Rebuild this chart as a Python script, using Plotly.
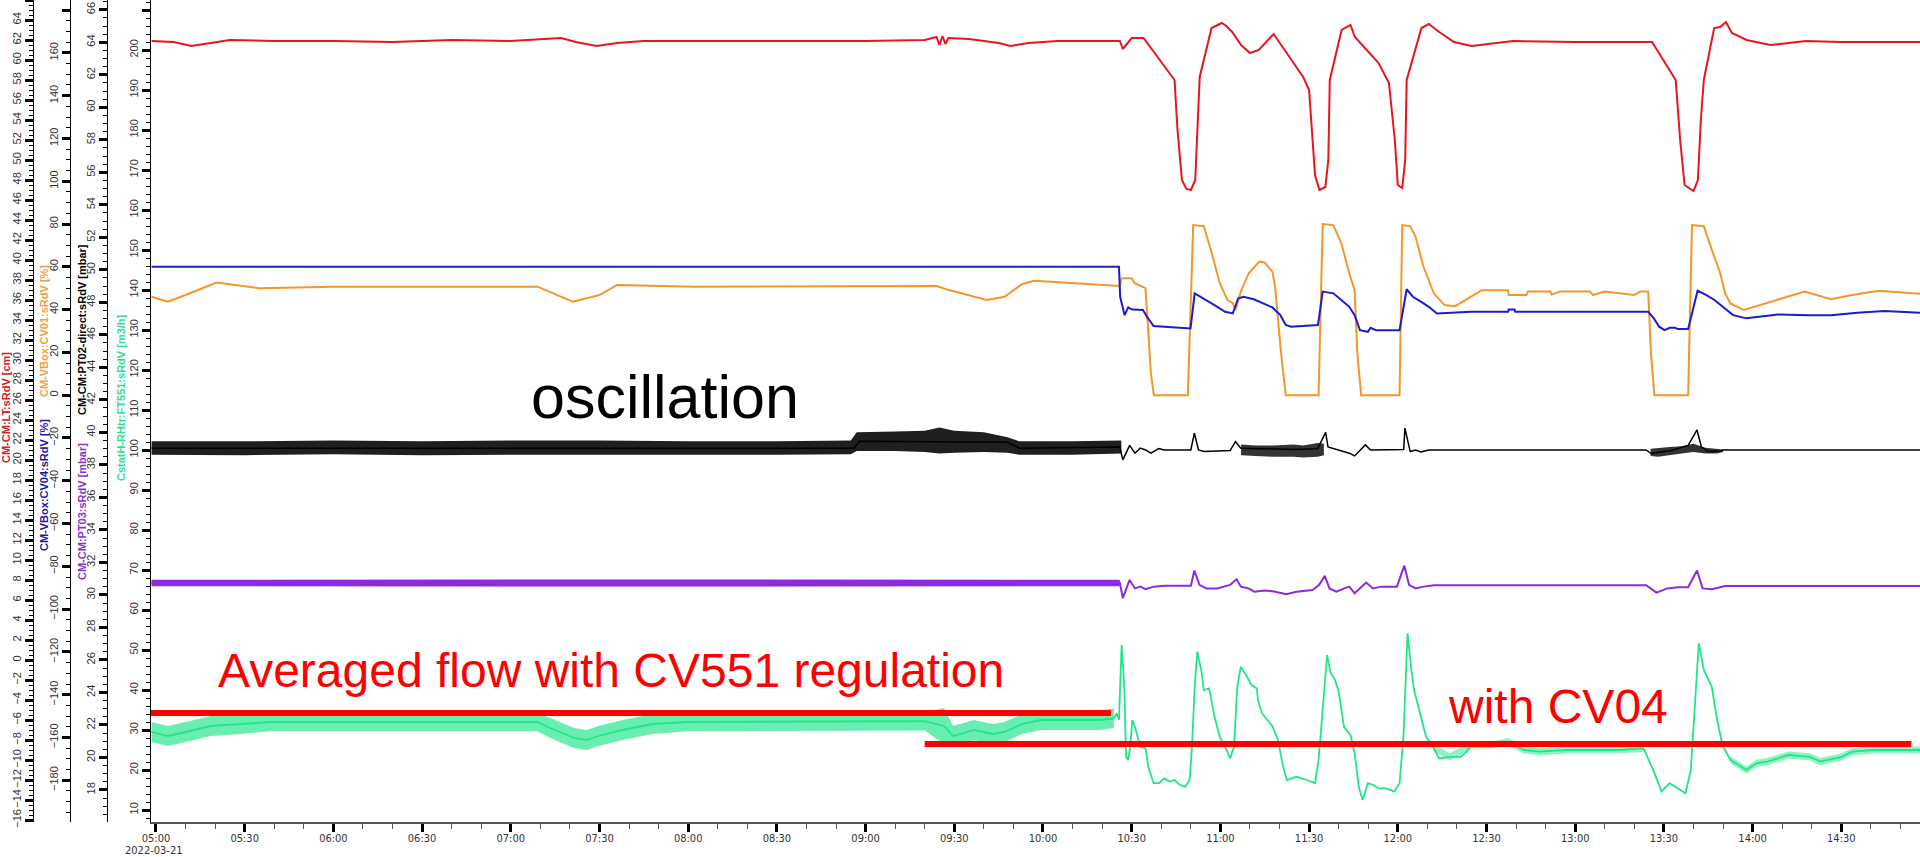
import plotly.graph_objects as go

DAY = "2022-03-21 "

# ---------------- data ----------------
# CM-CM:LT:sRdV [cm]  (red)
lt_time = ["04:58:30","05:06","05:12","05:18","05:25","05:40","06:00","06:20","06:40","07:00","07:10","07:17","07:22","07:29","07:36","07:45","08:10","08:40","09:00","09:20","09:24","09:25","09:26","09:27","09:28","09:35","09:45","09:49","09:55","10:05","10:15","10:26","10:27","10:30","10:34","10:44:30","10:45:30","10:47","10:48:30","10:50","10:51:30","10:52:30","10:53","10:57","11:00:30","11:02","11:04","11:07","11:10","11:13","11:18","11:28","11:30","11:32","11:33:30","11:35:30","11:36:30","11:37","11:41","11:44","11:45:30","11:53:30","11:57","11:59","12:00","12:01:30","12:02:30","12:03","12:08","12:10:30","12:14","12:19","12:25","12:39","13:00","13:26","13:34","13:35:30","13:37","13:40","13:41:30","13:42:30","13:43:30","13:47","13:49","13:51","13:53","13:58","14:06","14:18","14:30","14:57"]
lt_val = [61.9,61.8,61.4,61.7,62.0,61.9,61.9,61.8,62.0,61.9,62.1,62.2,61.8,61.4,61.7,61.9,61.9,61.9,61.9,62.0,62.3,61.5,62.4,61.6,62.2,62.1,61.7,61.4,61.7,61.9,61.9,61.9,61.1,62.2,62.2,58.0,53.0,48.0,47.1,47.0,48.0,56.0,58.3,63.2,63.7,63.4,62.8,61.5,60.7,61.0,62.6,58.3,57.0,48.5,47.0,47.3,50.0,58.0,63.0,63.5,62.3,59.7,57.7,52.0,47.5,47.2,50.0,58.0,63.2,63.6,62.8,61.8,61.4,61.9,61.8,61.8,58.0,52.0,47.5,46.9,48.0,54.0,58.0,63.2,63.3,63.8,62.7,62.0,61.5,61.9,61.8,61.8]

# CM-VBox:CV01:sRdV [%]  (orange)
cv01_time = ["04:58:30","05:04","05:10","05:20:30","05:35","06:00","06:40","07:09","07:13","07:21","07:30","07:36","08:02","08:43","09:24","09:28:30","09:41","09:47","09:53","09:57","10:19","10:26","10:26:36","10:30","10:31","10:34:40","10:36:30","10:37:30","10:49","10:50:48","10:54:24","10:57:06","10:59:48","11:02:24","11:04:12","11:05:06","11:06:54","11:09:36","11:13:12","11:15","11:17:36","11:18:30","11:20:30","11:22:06","11:33:12","11:34:36","11:38:12","11:40:54","11:43:36","11:45:24","11:46:18","11:47:36","12:00:36","12:01:30","12:04:12","12:06","12:08:42","12:12:12","12:15:48","12:19:24","12:23","12:28:18","12:37:18","12:37:30","12:43:30","12:44","12:51:36","12:52","12:55","13:05","13:06","13:10","13:20","13:22","13:24:42","13:25:36","13:26:48","13:38:12","13:39:30","13:43:30","13:46:12","13:48:54","13:50:42","13:52:30","13:57","14:01:30","14:12:18","14:17:36","14:26:30","14:33:42","14:42:36","14:57"]
cv01_val = [46,43.7,46.8,52.6,50,50.7,50.7,50.7,48.4,43.7,46.8,51.5,50.7,51,51,49,44.5,46,52,53.5,51.5,51,54.6,54.6,52.3,50,10,0,0,79.5,79,66.3,52.3,44.5,43,39.8,48.4,57,62.4,62,57.7,50.7,20,0,0,80,79.5,71,57,49,20,0,0,79.5,79,74,60,47.6,42.1,41.6,44.5,49,49,46.8,46.8,48.4,48.4,47,48.4,48.4,46.8,48.4,46.8,48.4,48.4,20,0,0,79.5,79,67.9,57.7,47.6,42.9,39.8,41.6,46,48.4,44.8,46.8,48.8,47.4]

# CM-VBox:CV04:sRdV [%]  (blue)
cv04_time = ["04:58:30","10:25:42","10:26:06","10:27:36","10:28:48","10:30:12","10:33:48","10:35:12","10:37:24","10:48:06","10:49:54","10:51:18","10:54:24","10:58","11:01:36","11:04:12","11:06","11:07:48","11:11:18","11:15","11:17:36","11:20:18","11:22:06","11:23:54","11:33","11:34:36","11:38:12","11:40:54","11:43:36","11:45:24","11:47:12","11:49:54","11:50:48","11:52:36","12:00:36","12:03","12:05:06","12:07:48","12:10:30","12:13:12","12:24:48","12:37:18","12:37:30","12:39:30","12:39:42","13:24:42","13:26:36","13:28:24","13:30:12","13:32","13:33:48","13:34:42","13:38:12","13:41:24","13:44:24","13:47:06","13:49:48","13:53:24","13:57:54","14:01:30","14:08:36","14:19:24","14:26:30","14:35:30","14:44:30","14:57"]
cv04_val = [60,60,46,37.4,41,40,39.8,36.6,32.3,31.2,31.2,47.6,45.2,42.1,39,38.2,45.2,46,44.8,42.6,41,37.4,32.8,32,32.8,48.4,47.6,44.5,41.3,37.4,30.4,29.6,31.5,30.4,30.4,49.5,46,43.7,41.3,38.2,39,39,40,40,39,39,35.9,32,30.4,31.5,31.5,30.9,30.9,48.8,46.8,44.5,41.3,37.4,35.9,36.6,37.7,37.4,37.4,38.5,39.3,38.5]

# CM-CM:PT02-direct:sRdV [mbar]  (black)
pt02_time = ["04:58:30","08:56","08:58","09:48","09:52","10:26","10:27","10:29:18","10:31:06","10:32:54","10:34:42","10:36:30","10:39:12","10:41","10:50","10:51:12","10:52:36","10:54:24","11:03:18","11:05:06","11:06:54","11:24:48","11:32:54","11:35:36","11:36:24","11:40","11:43:36","11:45:24","11:47:12","11:49","11:50:48","12:02","12:02:24","12:04:12","12:06","12:07:48","12:10:30","13:24","13:25:42","13:32:48","13:38:12","13:41:12","13:42:42","13:45","13:49","13:50","14:57"]
pt02_val = [39.03,39.03,39.45,39.4,39.03,39.1,38.31,39.2,38.72,39.03,38.92,38.72,39.0,38.92,38.92,39.95,38.92,38.82,38.88,39.44,39.03,38.95,39.0,40.0,39.1,38.92,38.72,38.55,38.92,39.23,38.92,38.95,40.26,38.82,38.92,38.8,38.92,38.92,38.7,38.9,39.2,40.15,39.1,38.82,38.85,38.92,38.92]
# oscillation envelope of PT02 (upper / lower edge of the dense band)
pt02_osc_time = ["04:58:30","05:30","06:00","06:30","07:00","07:30","08:00","08:30","08:55","08:57","09:10","09:20","09:25","09:30","09:40","09:48","09:52","10:10","10:26:30"]
pt02_osc_hi = [39.45,39.45,39.5,39.45,39.5,39.5,39.45,39.45,39.5,40.0,40.05,40.1,40.3,40.1,40.0,39.7,39.45,39.45,39.5]
pt02_osc_lo = [38.62,38.6,38.65,38.6,38.62,38.65,38.62,38.62,38.65,38.85,38.85,38.8,38.7,38.75,38.8,38.75,38.62,38.62,38.7]
pt02_osc2_time = ["11:07","11:12","11:18","11:24:48","11:28","11:32:54","11:35"]
pt02_osc2_hi = [39.25,39.2,39.2,39.25,39.2,39.35,39.3]
pt02_osc2_lo = [38.6,38.55,38.5,38.5,38.45,38.5,38.6]
pt02_osc3_time = ["13:25:30","13:28","13:32","13:36","13:40","13:44","13:48","13:50"]
pt02_osc3_hi = [39.0,39.05,39.1,39.15,39.3,39.05,39.0,38.95]
pt02_osc3_lo = [38.55,38.5,38.6,38.7,38.8,38.7,38.7,38.8]

# CM-CM:PT03:sRdV [mbar]  (purple)
pt03_time = ["04:58:30","10:26","10:27","10:29:18","10:31:06","10:32:54","10:34:42","10:37:24","10:41","10:50","10:51:12","10:52:54","10:55:18","10:58:54","11:03:18","11:05:30","11:06:54","11:09:36","11:11:24","11:15","11:18:36","11:22:12","11:25:48","11:31:12","11:33:24","11:35:18","11:36:54","11:39:12","11:41:54","11:43:36","11:45:24","11:47:36","11:49:18","11:51:36","11:54:18","11:59:42","12:02:12","12:03:48","12:06","12:08:42","12:12:18","13:24","13:25:42","13:27:30","13:31:06","13:34:42","13:38:12","13:41:12","13:43:06","13:46:12","13:50:42","14:57"]
pt03_val = [30.74,30.74,29.8,30.92,30.4,30.51,30.35,30.51,30.57,30.57,31.5,30.62,30.4,30.4,30.62,30.96,30.51,30.4,30.2,30.27,30.2,30.04,30.2,30.3,30.62,31.17,30.4,30.2,30.4,30.51,30.1,30.47,30.76,30.4,30.51,30.51,31.8,30.62,30.4,30.51,30.6,30.6,30.35,30.14,30.4,30.47,30.47,31.5,30.4,30.35,30.55,30.55]
pt03_osc_time = ["04:58:30","07:00","10:26"]
pt03_osc_hi = [30.93,30.95,30.93]
pt03_osc_lo = [30.53,30.52,30.53]

# CstatH-RHtr:FT551:sRdV [m3/h]  (green)
ft_time = ["04:58:30","05:04","05:10","05:18:30","05:28:42","05:39","06:30","07:09","07:13:18","07:21:24","07:25:36","07:29:42","07:37:48","07:48","08:00","09:20","09:26:30","09:29:36","09:36:42","09:43","09:47","09:53","09:59:18","10:19:18","10:24","10:24:54","10:25:42","10:26:36","10:27:30","10:28:06","10:28:48","10:29:30","10:30:12","10:31:06","10:32","10:32:54","10:34:42","10:35:36","10:37:24","10:39:12","10:41","10:42:48","10:44:30","10:46:18","10:48:06","10:49:36","10:50:24","10:51:18","10:52:12","10:53:30","10:54:24","10:56:12","10:58","10:59:48","11:02:06","11:03:18","11:04:36","11:05:42","11:06:54","11:08:42","11:10:30","11:12:18","11:12:48","11:14:06","11:15:54","11:17:42","11:19:30","11:21:12","11:22:30","11:25:42","11:29:18","11:32","11:33:12","11:34:42","11:36:06","11:37:18","11:38:36","11:40","11:41:48","11:44","11:45:24","11:46:48","11:48:06","11:49:54","11:51:42","11:53:30","11:56:06","11:58:48","12:00:36","12:01:54","12:03:18","12:04:36","12:05:30","12:07:48","12:09:36","12:11:54","12:14","12:17:36","12:21:12","12:23:24","12:24:48","12:31:54","12:37:18","12:42:42","12:48:06","12:57","13:06","13:14:54","13:23","13:23:54","13:26:36","13:29:12","13:31:54","13:34:36","13:37:18","13:39:06","13:40:30","13:41:48","13:43:30","13:46:12","13:48","13:49:48","13:52:30","13:54:18","13:57:54","14:01:24","14:05","14:12:12","14:19:18","14:22:54","14:30:06","14:33:42","14:40:48","14:57"]
ft_val = [29.5,28.5,29.5,31,31.5,32,32,32,30.5,28,27.5,28.5,30,31.5,32,32.2,31,28.5,30,29,29.5,31.5,32.5,32.5,32.9,34.2,32.5,51.25,40.8,23.3,22.5,25.8,32.5,30.8,28.3,25.8,25.4,20.8,16.7,16.7,17.9,17.1,17.5,16.25,15.8,17.5,25.8,40.8,49.6,45,40,40.4,33.3,28.3,25,22.9,25.8,40.8,45.8,43.75,41.25,40.4,37.1,34.2,32.5,30.8,27.5,20.8,17.5,18.3,17.5,16.7,22.5,36.7,48.75,44.2,42.9,39.6,30.8,28.75,24.2,15.8,12.5,16.7,16.25,15.4,15.4,14.6,16.7,28.3,54.2,45,40,33.3,28.3,25.8,22.9,23.3,23.3,24.6,26.25,26.25,27.1,25,24.6,25,25,25,25.4,24.2,19.6,14.6,16.7,15.4,14.2,20,36.7,51.7,45,40.8,32.5,26.25,22.5,21.7,20,21.7,22.1,23.75,23.3,22.1,23.3,24.6,25,25]
# noise envelope of FT551
ft_osc_time = ["04:58:30","05:04","05:10","05:18:30","05:28:42","05:39","06:30","07:09","07:13:18","07:21:24","07:25:36","07:29:42","07:37:48","07:48","08:00","09:20","09:26:30","09:29:36","09:36:42","09:43","09:47","09:53","09:59:18","10:19:18","10:24"]
ft_osc_hi = [32,31,32,33.5,34,34.3,34.3,34.3,33,30.5,30,31,32.5,34,34.3,34.5,35.5,31,32.5,31.5,32,34,35,35,35.3]
ft_osc_lo = [27,26,27,28.5,29,29.7,29.7,29.7,28,25.5,25,26,27.5,29,29.7,29.9,26.5,26,27.5,26.5,27,29,30,30,30.5]
ft_osc2_time = ["12:11:54","12:17:36","12:24:48","12:31:54","12:37:18","12:42:42","12:48:06","12:57","13:06","13:14:54","13:23"]
ft_osc2_hi = [26.7,24.2,27.15,27.15,28.0,25.9,25.5,25.9,25.9,25.9,26.3]
ft_osc2_lo = [24.9,22.4,25.35,25.35,26.2,24.1,23.7,24.1,24.1,24.1,24.5]
ft_osc3_time = ["13:52:30","13:57:54","14:01:24","14:05","14:12:12","14:19:18","14:22:54","14:30:06","14:33:42","14:40:48","14:57"]
ft_osc3_hi = [23.4,20.9,22.6,23.0,24.65,24.2,23.0,24.2,25.5,25.9,25.9]
ft_osc3_lo = [21.6,19.1,20.8,21.2,22.85,22.4,21.2,22.4,23.7,24.1,24.1]

# red "average" marker lines (FT551 units)
avg_start = ["04:58:19", "09:20:00"]
avg_end = ["10:23:00", "14:53:42"]
avg_level = [34.25, 26.5]

x_range = ["04:58:19", "14:56:37"]
# ------------------------------------------------------------

def T(lst):
    return [DAY + t for t in lst]

RED, ORANGE, BLUE = "#e8161b", "#f5962a", "#1c1ccf"
BLACK, PURPLE, GREEN = "#000000", "#8a2be2", "#22e58a"

fig = go.Figure()

def band(times, hi, lo, axis, color):
    fig.add_trace(go.Scatter(x=T(times) + T(times[::-1]), y=hi + lo[::-1], yaxis=axis,
                             mode="lines", fill="toself", fillcolor=color,
                             line=dict(width=0), hoverinfo="skip", showlegend=False))

# green (base axis)
band(ft_osc_time, ft_osc_hi, ft_osc_lo, "y", "rgba(34,229,138,0.68)")
band(ft_osc2_time, ft_osc2_hi, ft_osc2_lo, "y", "rgba(34,229,138,0.5)")
band(ft_osc3_time, ft_osc3_hi, ft_osc3_lo, "y", "rgba(34,229,138,0.5)")
fig.add_trace(go.Scatter(x=T(ft_time), y=ft_val, yaxis="y", mode="lines",
                         line=dict(color=GREEN, width=1.8), name="FT551"))
# red
fig.add_trace(go.Scatter(x=T(lt_time), y=lt_val, yaxis="y2", mode="lines",
                         line=dict(color=RED, width=2), name="LT"))
# orange / blue
fig.add_trace(go.Scatter(x=T(cv01_time), y=cv01_val, yaxis="y3", mode="lines",
                         line=dict(color=ORANGE, width=2), name="CV01"))
fig.add_trace(go.Scatter(x=T(cv04_time), y=cv04_val, yaxis="y3", mode="lines",
                         line=dict(color=BLUE, width=2), name="CV04"))
# black / purple
band(pt03_osc_time, pt03_osc_hi, pt03_osc_lo, "y4", PURPLE)
fig.add_trace(go.Scatter(x=T(pt03_time), y=pt03_val, yaxis="y4", mode="lines",
                         line=dict(color=PURPLE, width=2), name="PT03"))
band(pt02_osc_time, pt02_osc_hi, pt02_osc_lo, "y4", "rgba(0,0,0,0.88)")
band(pt02_osc2_time, pt02_osc2_hi, pt02_osc2_lo, "y4", "rgba(0,0,0,0.8)")
band(pt02_osc3_time, pt02_osc3_hi, pt02_osc3_lo, "y4", "rgba(0,0,0,0.8)")
fig.add_trace(go.Scatter(x=T(pt02_time), y=pt02_val, yaxis="y4", mode="lines",
                         line=dict(color=BLACK, width=1.5), name="PT02"))

tickfont = dict(family="Liberation Sans, Arial, sans-serif", size=11, color="#333333")
narrow = dict(family="Liberation Sans Narrow, Arial Narrow, DejaVu Sans Condensed, Liberation Sans, sans-serif",
              size=11, color="#333333")

def yax(rng, dtick, minor, **kw):
    d = dict(range=rng, dtick=dtick, tick0=0, showline=True, linecolor="black", linewidth=1,
             ticks="outside", ticklen=8, tickwidth=3, tickcolor="black",
             minor=dict(dtick=minor, tick0=0, ticks="outside", ticklen=4, tickwidth=1, tickcolor="black",
                        showgrid=False),
             tickangle=-90, tickfont=tickfont, showgrid=False, zeroline=False, automargin=False,
             fixedrange=True, side="left")
    d.update(kw)
    return d

W, H, PB = 1920, 857, 35
PH = H - PB
X0 = 151

fig.update_layout(
    template="none",
    width=W, height=H,
    margin=dict(l=0, r=0, t=0, b=PB, pad=0),
    paper_bgcolor="white", plot_bgcolor="white",
    showlegend=False,
    xaxis=dict(type="date", domain=[X0 / W, 1], range=T(x_range),
               tick0=DAY + "05:00", dtick=30 * 60 * 1000, tickformat="%H:%M",
               showline=True, linecolor="#555555", linewidth=1.5,
               ticks="outside", ticklen=8, tickwidth=3, tickcolor="black",
               ticklabelstandoff=-3,
               minor=dict(dtick=10 * 60 * 1000, ticks="outside", ticklen=5, tickwidth=1,
                          tickcolor="#555555", showgrid=False),
               tickfont=narrow, showgrid=False, zeroline=False, automargin=False, anchor="y",
               fixedrange=True),
    yaxis=yax([7, 212.5], 10, 2, anchor="x"),
    yaxis2=yax([-16.2, 66], 2, 0.5, overlaying="y", anchor="free", position=33 / W),
    yaxis3=yax([-199.5, 184.7], 20, 5, overlaying="y", anchor="free", position=70 / W),
    yaxis4=yax([16.03, 66.6], 2, 0.5, overlaying="y", anchor="free", position=107 / W),
)

for s, e, lvl in zip(avg_start, avg_end, avg_level):
    fig.add_shape(type="line", xref="x", yref="y", x0=DAY + s, x1=DAY + e, y0=lvl, y1=lvl,
                  line=dict(color="#ff0000", width=6), layer="above")

def py(p):
    return 1 - p / PH

titles = [
    ("CM-CM:LT:sRdV [cm]", 6, 408, "#d42020"),
    ("CM-VBox:CV01:sRdV [%]", 44, 331, "#f0a040"),
    ("CM-VBox:CV04:sRdV [%]", 44, 485, "#1a1aa8"),
    ("CM-CM:PT02-direct:sRdV [mbar]", 82, 330, "#000000"),
    ("CM-CM:PT03:sRdV [mbar]", 82, 512, "#8833cc"),
    ("CstatH-RHtr:FT551:sRdV [m3/h]", 121, 398, "#33dd99"),
]
for txt, x, y, c in titles:
    fig.add_annotation(text="<b>%s</b>" % txt, x=x / W, y=py(y), xref="paper", yref="paper",
                       textangle=-90, showarrow=False, xanchor="center", yanchor="middle",
                       font=dict(family="Liberation Sans, Arial, sans-serif", size=11, color=c))

big = "Liberation Sans, Arial, sans-serif"
fig.add_annotation(text="oscillation", x=529 / W, y=py(397), xref="paper", yref="paper",
                   showarrow=False, xanchor="left", yanchor="middle",
                   font=dict(family=big, size=61, color="black"))
fig.add_annotation(text="Averaged flow with CV551 regulation", x=216 / W, y=py(670),
                   xref="paper", yref="paper", showarrow=False, xanchor="left", yanchor="middle",
                   font=dict(family=big, size=48, color="#ff0000"))
fig.add_annotation(text="with CV04", x=1446 / W, y=py(706), xref="paper", yref="paper",
                   showarrow=False, xanchor="left", yanchor="middle",
                   font=dict(family=big, size=48, color="#ff0000"))
fig.add_annotation(text="2022-03-21", x=154 / W, y=py(850), xref="paper", yref="paper",
                   showarrow=False, xanchor="center", yanchor="middle", font=narrow)

fig.write_html("out.html", config={"displayModeBar": False, "staticPlot": True},
               post_script="document.body.style.margin='0px';document.body.style.overflow='hidden';")
